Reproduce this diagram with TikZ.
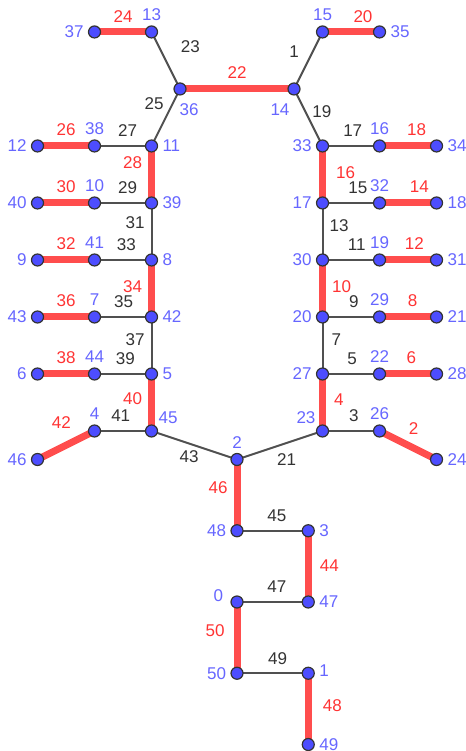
\documentclass[tikz,border=0pt]{standalone}
\usepackage{fontspec}
\setmainfont{Liberation Sans}
\usetikzlibrary{backgrounds}

\definecolor{vfill}{RGB}{77,77,255}
\definecolor{vtext}{RGB}{102,102,255}
\definecolor{hotline}{RGB}{255,77,77}
\definecolor{hottext}{RGB}{255,51,51}
\definecolor{coldline}{RGB}{80,80,80}
\definecolor{coldtext}{RGB}{51,51,51}

\tikzset{
	vert/.style={circle, draw=black!80, fill=vfill, line width=0.6pt, minimum size=6pt, inner sep=0pt},
	vlab/.style={text=vtext, inner sep=1pt},
	hot/.style={draw=hotline, line width=3.5pt},
	cold/.style={draw=coldline, line width=1pt},
	hlab/.style={text=hottext, inner sep=1pt},
	clab/.style={text=coldtext, inner sep=1pt}
}

\begin{document}
\begin{tikzpicture}[font=\fontsize{8.5}{10}\selectfont, label distance=1pt]

	\useasboundingbox (-4.158,-5.114) rectangle (4.0,8.061);

	% Vertices, left comb
	\node[vert, label={[vlab]left:37}] (v37) at (-2.5,7.5) {};
	\node[vert, label={[vlab]above:13}] (v13) at (-1.5,7.5) {};
	\node[vert, label={[vlab, xshift=4.5pt, label distance=3pt]below:36}] (v36) at (-1,6.5) {};
	\node[vert, label={[vlab]left:12}] (v12) at (-3.5,5.5) {};
	\node[vert, label={[vlab]above:38}] (v38) at (-2.5,5.5) {};
	\node[vert, label={[vlab]right:11}] (v11) at (-1.5,5.5) {};
	\node[vert, label={[vlab]left:40}] (v40) at (-3.5,4.5) {};
	\node[vert, label={[vlab]above:10}] (v10) at (-2.5,4.5) {};
	\node[vert, label={[vlab]right:39}] (v39) at (-1.5,4.5) {};
	\node[vert, label={[vlab]left:9}] (v9) at (-3.5,3.5) {};
	\node[vert, label={[vlab]above:41}] (v41) at (-2.5,3.5) {};
	\node[vert, label={[vlab]right:8}] (v8) at (-1.5,3.5) {};
	\node[vert, label={[vlab]left:43}] (v43) at (-3.5,2.5) {};
	\node[vert, label={[vlab]above:7}] (v7) at (-2.5,2.5) {};
	\node[vert, label={[vlab]right:42}] (v42) at (-1.5,2.5) {};
	\node[vert, label={[vlab]left:6}] (v6) at (-3.5,1.5) {};
	\node[vert, label={[vlab]above:44}] (v44) at (-2.5,1.5) {};
	\node[vert, label={[vlab]right:5}] (v5) at (-1.5,1.5) {};
	\node[vert, label={[vlab]left:46}] (v46) at (-3.5,0) {};
	\node[vert, label={[vlab]above:4}] (v4) at (-2.5,0.5) {};
	\node[vert, label={[vlab, label distance=0pt]above right:45}] (v45) at (-1.5,0.5) {};

	% Vertices, right comb
	\node[vert, label={[vlab]above:15}] (v15) at (1.5,7.5) {};
	\node[vert, label={[vlab]right:35}] (v35) at (2.5,7.5) {};
	\node[vert, label={[vlab, xshift=-7pt, label distance=3pt]below:14}] (v14) at (1,6.5) {};
	\node[vert, label={[vlab]left:33}] (v33) at (1.5,5.5) {};
	\node[vert, label={[vlab]above:16}] (v16) at (2.5,5.5) {};
	\node[vert, label={[vlab]right:34}] (v34) at (3.5,5.5) {};
	\node[vert, label={[vlab]left:17}] (v17) at (1.5,4.5) {};
	\node[vert, label={[vlab]above:32}] (v32) at (2.5,4.5) {};
	\node[vert, label={[vlab]right:18}] (v18) at (3.5,4.5) {};
	\node[vert, label={[vlab]left:30}] (v30) at (1.5,3.5) {};
	\node[vert, label={[vlab]above:19}] (v19) at (2.5,3.5) {};
	\node[vert, label={[vlab]right:31}] (v31) at (3.5,3.5) {};
	\node[vert, label={[vlab]left:20}] (v20) at (1.5,2.5) {};
	\node[vert, label={[vlab]above:29}] (v29) at (2.5,2.5) {};
	\node[vert, label={[vlab]right:21}] (v21) at (3.5,2.5) {};
	\node[vert, label={[vlab]left:27}] (v27) at (1.5,1.5) {};
	\node[vert, label={[vlab]above:22}] (v22) at (2.5,1.5) {};
	\node[vert, label={[vlab]right:28}] (v28) at (3.5,1.5) {};
	\node[vert, label={[vlab, label distance=0pt]above left:23}] (v23) at (1.5,0.5) {};
	\node[vert, label={[vlab]above:26}] (v26) at (2.5,0.5) {};
	\node[vert, label={[vlab]right:24}] (v24) at (3.5,0) {};

	% Vertices, tail
	\node[vert, label={[vlab]above:2}] (v2) at (0,0) {};
	\node[vert, label={[vlab]left:48}] (v48) at (0,-1.25) {};
	\node[vert, label={[vlab]right:3}] (v3) at (1.25,-1.25) {};
	\node[vert, label={[vlab, yshift=3pt, label distance=2.5pt]left:0}] (v0) at (0,-2.5) {};
	\node[vert, label={[vlab]right:47}] (v47) at (1.25,-2.5) {};
	\node[vert, label={[vlab]left:50}] (v50) at (0,-3.75) {};
	\node[vert, label={[vlab, yshift=1.5pt]right:1}] (v1) at (1.25,-3.75) {};
	\node[vert, label={[vlab]right:49}] (v49) at (1.25,-5) {};

	\begin{pgfonlayer}{background}
	% Matched edges
	\draw[hot] (v37.center) -- (v13.center) node[hlab, pos=0.5, above=2pt] {24};
	\draw[hot] (v15.center) -- (v35.center) node[hlab, pos=0.71, above=2pt] {20};
	\draw[hot] (v36.center) -- (v14.center) node[hlab, pos=0.5, above=2.5pt] {22};
	\draw[hot] (v12.center) -- (v38.center) node[hlab, pos=0.5, above=2.5pt] {26};
	\draw[hot] (v40.center) -- (v10.center) node[hlab, pos=0.5, above=2.5pt] {30};
	\draw[hot] (v9.center) -- (v41.center) node[hlab, pos=0.5, above=2.5pt] {32};
	\draw[hot] (v43.center) -- (v7.center) node[hlab, pos=0.5, above=2.5pt] {36};
	\draw[hot] (v6.center) -- (v44.center) node[hlab, pos=0.5, above=2.5pt] {38};
	\draw[hot] (v46.center) -- (v4.center) node[hlab, pos=0.42, above=6.5pt] {42};
	\draw[hot] (v11.center) -- (v39.center) node[hlab, pos=0.3, left=2pt] {28};
	\draw[hot] (v8.center) -- (v42.center) node[hlab, pos=0.47, left=2pt] {34};
	\draw[hot] (v5.center) -- (v45.center) node[hlab, pos=0.44, left=2pt] {40};
	\draw[hot] (v16.center) -- (v34.center) node[hlab, pos=0.65, above=2.5pt] {18};
	\draw[hot] (v32.center) -- (v18.center) node[hlab, pos=0.7, above=2.5pt] {14};
	\draw[hot] (v19.center) -- (v31.center) node[hlab, pos=0.61, above=2.5pt] {12};
	\draw[hot] (v29.center) -- (v21.center) node[hlab, pos=0.58, above=2.5pt] {8};
	\draw[hot] (v22.center) -- (v28.center) node[hlab, pos=0.56, above=2.5pt] {6};
	\draw[hot] (v26.center) -- (v24.center) node[hlab, pos=0.6, above=4pt] {2};
	\draw[hot] (v33.center) -- (v17.center) node[hlab, pos=0.47, right=4pt] {16};
	\draw[hot] (v30.center) -- (v20.center) node[hlab, pos=0.47, right=2pt] {10};
	\draw[hot] (v27.center) -- (v23.center) node[hlab, pos=0.45, right=3pt] {4};
	\draw[hot] (v2.center) -- (v48.center) node[hlab, pos=0.39, left=2pt] {46};
	\draw[hot] (v3.center) -- (v47.center) node[hlab, pos=0.49, right=3pt] {44};
	\draw[hot] (v0.center) -- (v50.center) node[hlab, pos=0.4, left=3.5pt] {50};
	\draw[hot] (v1.center) -- (v49.center) node[hlab, pos=0.46, right=4.5pt] {48};

	% Other edges
	\draw[cold] (v13.center) -- (v36.center) node[clab, pos=0.5, above right, xshift=6pt, yshift=2.5pt] {23};
	\draw[cold] (v36.center) -- (v11.center) node[clab, pos=0.26, left=3pt] {25};
	\draw[cold] (v14.center) -- (v15.center) node[clab, pos=0.66, left=5.5pt] {1};
	\draw[cold] (v14.center) -- (v33.center) node[clab, pos=0.4, right=2pt] {19};
	\draw[cold] (v38.center) -- (v11.center) node[clab, pos=0.58, above=3pt] {27};
	\draw[cold] (v10.center) -- (v39.center) node[clab, pos=0.58, above=3pt] {29};
	\draw[cold] (v41.center) -- (v8.center) node[clab, pos=0.56, above=3pt] {33};
	\draw[cold] (v7.center) -- (v42.center) node[clab, pos=0.51, above=3pt] {35};
	\draw[cold] (v44.center) -- (v5.center) node[clab, pos=0.54, above=3pt] {39};
	\draw[cold] (v4.center) -- (v45.center) node[clab, pos=0.46, above=3pt] {41};
	\draw[cold] (v39.center) -- (v8.center) node[clab, pos=0.35, left=2pt] {31};
	\draw[cold] (v42.center) -- (v5.center) node[clab, pos=0.4, left=2pt] {37};
	\draw[cold] (v33.center) -- (v16.center) node[clab, pos=0.53, above=3pt] {17};
	\draw[cold] (v17.center) -- (v32.center) node[clab, pos=0.62, above=3pt] {15};
	\draw[cold] (v30.center) -- (v19.center) node[clab, pos=0.6, above=3pt] {11};
	\draw[cold] (v20.center) -- (v29.center) node[clab, pos=0.55, above=3pt] {9};
	\draw[cold] (v27.center) -- (v22.center) node[clab, pos=0.52, above=3pt] {5};
	\draw[cold] (v23.center) -- (v26.center) node[clab, pos=0.55, above=3pt] {3};
	\draw[cold] (v17.center) -- (v30.center) node[clab, pos=0.39, right=2pt] {13};
	\draw[cold] (v20.center) -- (v27.center) node[clab, pos=0.4, right=3pt] {7};
	\draw[cold] (v45.center) -- (v2.center) node[clab, pos=0.44, below=2pt] {43};
	\draw[cold] (v2.center) -- (v23.center) node[clab, pos=0.58, below=4pt] {21};
	\draw[cold] (v48.center) -- (v3.center) node[clab, pos=0.56, above=3pt] {45};
	\draw[cold] (v0.center) -- (v47.center) node[clab, pos=0.56, above=3pt] {47};
	\draw[cold] (v50.center) -- (v1.center) node[clab, pos=0.57, above=3pt] {49};
	\end{pgfonlayer}

\end{tikzpicture}
\end{document}
